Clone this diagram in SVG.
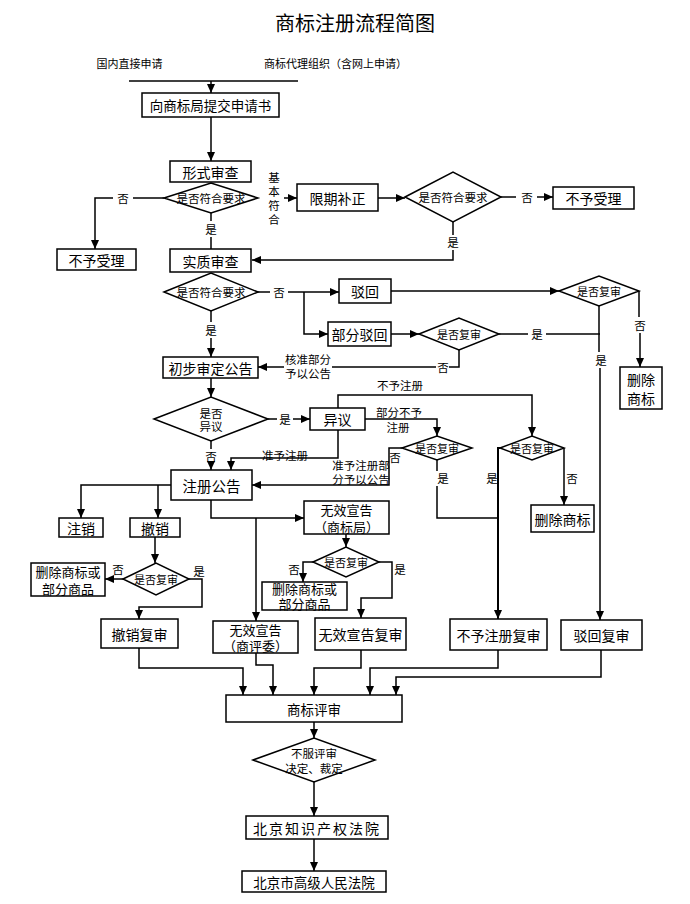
<svg xmlns="http://www.w3.org/2000/svg" width="690" height="904" viewBox="0 0 690 904">
<defs>
<marker id="ah" markerUnits="userSpaceOnUse" markerWidth="9" markerHeight="8" refX="9" refY="4" orient="auto">
<path d="M0,0 L9,4 L0,8 z" fill="#000"/>
</marker>
<style>
.b{fill:#fff;stroke:#000;stroke-width:1.5}
.t{font-family:"Noto Sans CJK SC","Noto Sans",sans-serif;font-size:14px;text-anchor:middle;dominant-baseline:central;fill:#000}
.s{font-size:11.5px}
.l{font-size:11px}
.m{font-size:13px}
.c{fill:none;stroke:#000;stroke-width:1.5}
.a{marker-end:url(#ah)}
</style>
</defs>
<rect width="690" height="904" fill="#fff"/>
<text class="t" x="355" y="22" style="font-size:20px">商标注册流程简图</text>
<text class="t l" x="129.5" y="63">国内直接申请</text>
<text class="t l" x="335.5" y="63">商标代理组织（含网上申请）</text>

<g id="connectors">
<path class="c" d="M129,81 H298"/>
<path class="c a" d="M211,81 V93"/>
<path class="c a" d="M211,117 V161"/>
<path class="c" d="M164,198 H133"/>
<path class="c a" d="M113,198 H95 V249"/>
<path class="c a" d="M284,198 H297"/>
<path class="c a" d="M378,198 H405"/>
<path class="c" d="M501,197 H516"/>
<path class="c a" d="M537,197 H553"/>
<path class="c" d="M453,222 V235"/>
<path class="c a" d="M453,250 V260 H252"/>
<path class="c" d="M211,213 V221"/>
<path class="c" d="M211,237 V249"/>
<path class="c" d="M258,292 H270"/>
<path class="c a" d="M288,292 H339"/>
<path class="c a" d="M304,292 V334 H328"/>
<path class="c a" d="M391,291 H559"/>
<path class="c a" d="M391,334 H419"/>
<path class="c" d="M499,334 H528"/>
<path class="c" d="M546,334 H600"/>
<path class="c" d="M599,306 V352"/>
<path class="c a" d="M600,368 V620"/>
<path class="c" d="M639,291 V317"/>
<path class="c a" d="M640,333 V367"/>
<path class="c" d="M459,350 V367 H449"/>
<path class="c" d="M436,367 H332"/>
<path class="c a" d="M284,367 H258"/>
<path class="c" d="M211,311 V322"/>
<path class="c a" d="M211,338 V357"/>
<path class="c a" d="M211,378 V397"/>
<path class="c" d="M268,419 H277"/>
<path class="c a" d="M293,419 H310"/>
<path class="c a" d="M338,408 V395 H532 V436"/>
<path class="c a" d="M365,419 H437 V436"/>
<path class="c a" d="M402,448 H389 V485 H252"/>
<path class="c a" d="M338,430 V458 H231 V470"/>
<path class="c" d="M211,441 V449"/>
<path class="c a" d="M211,463 V470"/>
<path class="c" d="M437,460 V471"/>
<path class="c" d="M437,486 V518 H498"/>
<path class="c a" d="M500,448 H498 V619" style="stroke-width:2"/>
<path class="c a" d="M564,448 V505"/>
<path class="c a" d="M171,485 H81 V518"/>
<path class="c a" d="M158,485 V518"/>
<path class="c a" d="M155,537 V563"/>
<path class="c a" d="M123,579 H105"/>
<path class="c a" d="M189,579 H202 V607 H139 V619"/>
<path class="c a" d="M139,648 V668 H243 V695"/>
<path class="c a" d="M211,500 V518 H304"/>
<path class="c a" d="M256,518 V621"/>
<path class="c a" d="M346,534 V547"/>
<path class="c a" d="M313,562 H303 V582"/>
<path class="c a" d="M379,562 H392 V598 H361 V618"/>
<path class="c a" d="M256,653 V665 H273 V695"/>
<path class="c a" d="M361,650 V668 H314 V695"/>
<path class="c a" d="M498,650 V668 H370 V695"/>
<path class="c a" d="M601,650 V677 H396 V695"/>
<path class="c a" d="M314,722 V738"/>
<path class="c a" d="M314,782 V816"/>
<path class="c a" d="M314,839 V871"/>
</g>

<g id="labels">
<text class="t s" x="123" y="198">否</text>
<text class="t s" x="274" y="177">基</text>
<text class="t s" x="274" y="191">本</text>
<text class="t s" x="274" y="205">符</text>
<text class="t s" x="274" y="219">合</text>
<text class="t s" x="527" y="197">否</text>
<text class="t s" x="453" y="242">是</text>
<text class="t s" x="211" y="229">是</text>
<text class="t s" x="279" y="292">否</text>
<text class="t s" x="537" y="334">是</text>
<text class="t s" x="601" y="360">是</text>
<text class="t s" x="640" y="325">否</text>
<text class="t s" x="443" y="367">否</text>
<text class="t s" x="308" y="359">核准部分</text>
<text class="t s" x="308" y="373">予以公告</text>
<text class="t s" x="211" y="330">是</text>
<text class="t s" x="285" y="419">是</text>
<text class="t s" x="400" y="385">不予注册</text>
<text class="t s" x="399" y="412">部分不予</text>
<text class="t s" x="398" y="427">注册</text>
<text class="t s" x="395" y="457">否</text>
<text class="t s" x="361" y="465">准予注册部</text>
<text class="t s" x="361" y="479">分予以公告</text>
<text class="t s" x="285" y="455">准予注册</text>
<text class="t s" x="211" y="456">否</text>
<text class="t s" x="443" y="478">是</text>
<text class="t s" x="492" y="478">是</text>
<text class="t s" x="572" y="478">否</text>
<text class="t s" x="118" y="569">否</text>
<text class="t s" x="199" y="571">是</text>
<text class="t s" x="294" y="569">否</text>
<text class="t s" x="400" y="569">是</text>
</g>

<g id="n1"><rect class="b" x="142" y="93" width="137" height="24"/><text class="t" x="210.5" y="105" style="font-size:13.5px">向商标局提交申请书</text></g>
<g id="n2"><rect class="b" x="170" y="161" width="81" height="21"/><text class="t" x="210.5" y="171.5">形式审查</text></g>
<g id="d1"><polygon class="b" points="164,198 211,183 258,198 211,213"/><text class="t s" x="211" y="198">是否符合要求</text></g>
<g id="n3"><rect class="b" x="57" y="249" width="79" height="21"/><text class="t" x="96.5" y="259.5">不予受理</text></g>
<g id="n4"><rect class="b" x="297" y="184" width="81" height="27"/><text class="t" x="337.5" y="197.5">限期补正</text></g>
<g id="d2"><polygon class="b" points="405,197 453,172 501,197 453,222"/><text class="t s" x="453" y="197">是否符合要求</text></g>
<g id="n5"><rect class="b" x="553" y="187" width="81" height="22"/><text class="t" x="593.5" y="198">不予受理</text></g>
<g id="n6"><rect class="b" x="170" y="249" width="81" height="23"/><text class="t" x="210.5" y="260.5">实质审查</text></g>
<g id="d3"><polygon class="b" points="164,292 211,273 258,292 211,311"/><text class="t s" x="211" y="292">是否符合要求</text></g>
<g id="n7"><rect class="b" x="339" y="279" width="52" height="24"/><text class="t" x="365" y="291">驳回</text></g>
<g id="n8"><rect class="b" x="328" y="322" width="63" height="24"/><text class="t" x="359.5" y="334">部分驳回</text></g>
<g id="d4"><polygon class="b" points="559,291 599,276 639,291 599,306"/><text class="t l" x="599" y="291">是否复审</text></g>
<g id="d5"><polygon class="b" points="419,334 459,318 499,334 459,350"/><text class="t l" x="459" y="334">是否复审</text></g>
<g id="n9"><rect class="b" x="620" y="367" width="42" height="42"/><text class="t" x="641" y="378.5">删除</text><text class="t" x="641" y="397.5">商标</text></g>
<g id="n10"><rect class="b" x="163" y="357" width="95" height="21"/><text class="t" x="210.5" y="367.5">初步审定公告</text></g>
<g id="d6"><polygon class="b" points="154,419 211,397 268,419 211,441"/><text class="t s" x="211" y="412.5">是否</text><text class="t s" x="211" y="425.5">异议</text></g>
<g id="n11"><rect class="b" x="310" y="408" width="55" height="22"/><text class="t" x="337.5" y="419">异议</text></g>
<g id="d7"><polygon class="b" points="402,448 437,436 472,448 437,460"/><text class="t l" x="437" y="448">是否复审</text></g>
<g id="d8"><polygon class="b" points="500,448 532,436 564,448 532,460"/><text class="t l" x="532" y="448">是否复审</text></g>
<g id="n12"><rect class="b" x="171" y="470" width="81" height="30"/><text class="t" x="211.5" y="485" style="font-size:14.5px">注册公告</text></g>
<g id="n13"><rect class="b" x="531" y="505" width="63" height="27"/><text class="t" x="562.5" y="518.5">删除商标</text></g>
<g id="n14"><rect class="b" x="450" y="619" width="97" height="31"/><text class="t" x="498.5" y="634.5">不予注册复审</text></g>
<g id="n15"><rect class="b" x="561" y="620" width="81" height="30"/><text class="t" x="601.5" y="635">驳回复审</text></g>
<g id="n16"><rect class="b" x="59" y="518" width="44" height="19"/><text class="t" x="81" y="527.5">注销</text></g>
<g id="n17"><rect class="b" x="130" y="518" width="50" height="19"/><text class="t" x="155" y="527.5">撤销</text></g>
<g id="d9"><polygon class="b" points="123,579 156,563 189,579 156,595"/><text class="t l" x="156" y="579">是否复审</text></g>
<g id="n18"><rect class="b" x="31" y="563" width="74" height="33"/><text class="t m" x="68" y="571">删除商标或</text><text class="t m" x="68" y="588">部分商品</text></g>
<g id="n19"><rect class="b" x="101" y="619" width="77" height="29"/><text class="t" x="139.5" y="633.5">撤销复审</text></g>
<g id="n20"><rect class="b" x="304" y="501" width="85" height="33"/><text class="t m" x="346.5" y="509">无效宣告</text><text class="t m" x="346.5" y="526">（商标局）</text></g>
<g id="d10"><polygon class="b" points="313,562 346,547 379,562 346,577"/><text class="t l" x="346" y="562">是否复审</text></g>
<g id="n21"><rect class="b" x="262" y="582" width="85" height="28"/><text class="t m" x="304.5" y="588.5">删除商标或</text><text class="t m" x="304.5" y="603.5">部分商品</text></g>
<g id="n22"><rect class="b" x="315" y="618" width="91" height="32"/><text class="t" x="360.5" y="634">无效宣告复审</text></g>
<g id="n23"><rect class="b" x="213" y="621" width="85" height="32"/><text class="t m" x="255.5" y="629">无效宣告</text><text class="t m" x="255.5" y="645.5">（商评委）</text></g>
<g id="n24"><rect class="b" x="226" y="695" width="176" height="27"/><text class="t" x="314" y="708.5" style="font-size:13.5px">商标评审</text></g>
<g id="d11"><polygon class="b" points="253,760 314,738 375,760 314,782"/><text class="t s" x="314" y="752.5">不服评审</text><text class="t s" x="314" y="767.5">决定、裁定</text></g>
<g id="n25"><rect class="b" x="246" y="816" width="142" height="23"/><text class="t" x="317" y="827.5" style="letter-spacing:2px">北京知识产权法院</text></g>
<g id="n26"><rect class="b" x="242" y="871" width="144" height="21"/><text class="t" x="314" y="881.5" style="font-size:13.5px">北京市高级人民法院</text></g>
</svg>
